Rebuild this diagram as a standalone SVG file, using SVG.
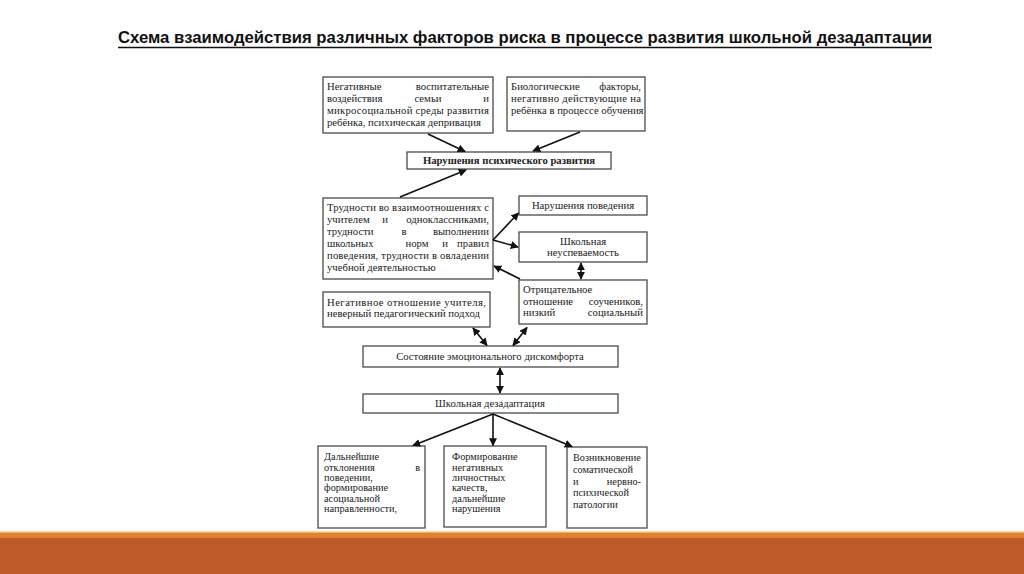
<svg xmlns="http://www.w3.org/2000/svg" width="1024" height="574" viewBox="0 0 1024 574">
<defs>
<style>
.box{fill:#fff;stroke:#4a4a4a;stroke-width:1.3}
.t{font-family:'Liberation Serif','Times New Roman',serif;font-size:10.7px;fill:#222}
.s{font-size:10.3px}
.c{text-anchor:middle}
.e{text-anchor:end}
.b{font-weight:bold}
.ln{stroke:#111;stroke-width:1.6;fill:none}
</style>
<marker id="ah" viewBox="0 0 10 10" refX="9" refY="5" markerWidth="5" markerHeight="5" orient="auto-start-reverse" markerUnits="strokeWidth">
<path d="M0,0 L10,5 L0,10 z" fill="#111"/>
</marker>
</defs>
<rect width="1024" height="574" fill="#fff"/>

<g id="title">
<text x="118" y="43" font-family="'Liberation Sans',Arial,sans-serif" font-weight="bold" font-size="16" fill="#111" textLength="814" lengthAdjust="spacingAndGlyphs">Схема взаимодействия различных факторов риска в процессе развития школьной дезадаптации</text>
<line x1="118" y1="47.5" x2="932" y2="47.5" stroke="#111" stroke-width="1.4"/>
</g>

<g id="n1" font-family="'Liberation Serif',serif">
<rect class="box" x="323" y="77" width="170" height="56"/>
<text class="t" x="327" y="90">Негативные</text>
<text class="t e" x="489" y="90">воспитательные</text>
<text class="t" x="327" y="102">воздействия</text>
<text class="t c" x="428" y="102">семьи</text>
<text class="t e" x="489" y="102">и</text>
<text class="t" x="327" y="114" textLength="162" lengthAdjust="spacing">микросоциальной среды развития</text>
<text class="t" x="327" y="126">ребёнка, психическая депривация</text>
</g>

<g id="n2" font-family="'Liberation Serif',serif">
<rect class="box" x="507" y="77" width="138" height="54"/>
<text class="t" x="511" y="90">Биологические</text>
<text class="t e" x="641" y="90">факторы,</text>
<text class="t" x="511" y="102" textLength="130" lengthAdjust="spacing">негативно действующие на</text>
<text class="t" x="511" y="114">ребёнка в процессе обучения</text>
</g>

<g id="n3" font-family="'Liberation Serif',serif">
<rect class="box" x="407" y="152" width="204" height="17"/>
<text class="t c b" x="509" y="164">Нарушения психического развития</text>
</g>

<g id="n4" font-family="'Liberation Serif',serif">
<rect class="box" x="323" y="198" width="170" height="81"/>
<text class="t" x="327" y="211" textLength="162" lengthAdjust="spacing">Трудности во взаимоотношениях с</text>
<text class="t" x="327" y="223">учителем</text>
<text class="t c" x="385" y="223">и</text>
<text class="t e" x="489" y="223">одноклассниками,</text>
<text class="t" x="327" y="235">трудности</text>
<text class="t c" x="404" y="235">в</text>
<text class="t e" x="489" y="235">выполнении</text>
<text class="t" x="327" y="247">школьных</text>
<text class="t c" x="417" y="247">норм</text>
<text class="t c" x="445" y="247">и</text>
<text class="t e" x="489" y="247">правил</text>
<text class="t" x="327" y="259" textLength="162" lengthAdjust="spacing">поведения, трудности в овладении</text>
<text class="t" x="327" y="271">учебной деятельностью</text>
</g>

<g id="n5" font-family="'Liberation Serif',serif">
<rect class="box" x="519" y="196" width="128" height="19"/>
<text class="t c" x="583" y="209">Нарушения поведения</text>
</g>

<g id="n6" font-family="'Liberation Serif',serif">
<rect class="box" x="519" y="232" width="128" height="30"/>
<text class="t c" x="583" y="245">Школьная</text>
<text class="t c" x="583" y="256">неуспеваемость</text>
</g>

<g id="n7" font-family="'Liberation Serif',serif">
<rect class="box" x="519" y="280" width="128" height="44"/>
<text class="t" x="523" y="293">Отрицательное</text>
<text class="t" x="523" y="305">отношение</text>
<text class="t e" x="643" y="305">соучеников,</text>
<text class="t" x="523" y="316">низкий</text>
<text class="t e" x="643" y="316">социальный</text>
</g>

<g id="n8" font-family="'Liberation Serif',serif">
<rect class="box" x="323" y="292" width="167" height="35"/>
<text class="t" x="327" y="305.5" textLength="159" lengthAdjust="spacing">Негативное отношение учителя,</text>
<text class="t" x="327" y="317">неверный педагогический подход</text>
</g>

<g id="n9" font-family="'Liberation Serif',serif">
<rect class="box" x="363" y="346" width="255" height="21"/>
<text class="t c" x="490" y="360">Состояние эмоционального дискомфорта</text>
</g>

<g id="n10" font-family="'Liberation Serif',serif">
<rect class="box" x="363" y="394" width="255" height="19"/>
<text class="t c" x="490" y="407">Школьная дезадаптация</text>
</g>

<g id="n11" font-family="'Liberation Serif',serif">
<rect class="box" x="318" y="446" width="107" height="82"/>
<text class="t s" x="324" y="460">Дальнейшие</text>
<text class="t s" x="324" y="470.5">отклонения</text>
<text class="t s e" x="420" y="470.5">в</text>
<text class="t s" x="324" y="481">поведении,</text>
<text class="t s" x="324" y="491">формирование</text>
<text class="t s" x="324" y="501.5">асоциальной</text>
<text class="t s" x="324" y="512">направленности,</text>
</g>

<g id="n12" font-family="'Liberation Serif',serif">
<rect class="box" x="444" y="446" width="102" height="81"/>
<text class="t s" x="452" y="460">Формирование</text>
<text class="t s" x="452" y="470.5">негативных</text>
<text class="t s" x="452" y="481">личностных</text>
<text class="t s" x="452" y="491">качеств,</text>
<text class="t s" x="452" y="501.5">дальнейшие</text>
<text class="t s" x="452" y="512">нарушения</text>
</g>

<g id="n13" font-family="'Liberation Serif',serif">
<rect class="box" x="567" y="447" width="80" height="81"/>
<text class="t s" x="573" y="461">Возникновение</text>
<text class="t s" x="573" y="473">соматической</text>
<text class="t s" x="573" y="484.5">и</text>
<text class="t s e" x="641" y="484.5">нервно-</text>
<text class="t s" x="573" y="496">психической</text>
<text class="t s" x="573" y="508">патологии</text>
</g>

<g id="connectors">
<line class="ln" x1="428" y1="134" x2="465" y2="151.5" marker-end="url(#ah)"/>
<line class="ln" x1="580" y1="132" x2="533" y2="151" marker-end="url(#ah)"/>
<line class="ln" x1="400" y1="197" x2="466" y2="170" marker-end="url(#ah)"/>
<line class="ln" x1="493" y1="240" x2="518.5" y2="213" marker-end="url(#ah)"/>
<line class="ln" x1="493" y1="240" x2="518" y2="247" marker-end="url(#ah)"/>
<line class="ln" x1="520" y1="279" x2="494" y2="266" marker-end="url(#ah)"/>
<line class="ln" x1="581" y1="263" x2="581" y2="279" marker-start="url(#ah)" marker-end="url(#ah)"/>
<line class="ln" x1="473" y1="328" x2="487" y2="345.5" marker-start="url(#ah)" marker-end="url(#ah)"/>
<line class="ln" x1="527" y1="327.5" x2="513" y2="345.5" marker-start="url(#ah)" marker-end="url(#ah)"/>
<line class="ln" x1="500" y1="368" x2="500" y2="393" marker-start="url(#ah)" marker-end="url(#ah)"/>
<line class="ln" x1="493" y1="414" x2="413" y2="445.5" marker-end="url(#ah)"/>
<line class="ln" x1="493" y1="414" x2="493" y2="445.5" marker-end="url(#ah)"/>
<line class="ln" x1="493" y1="414" x2="572" y2="446.5" marker-end="url(#ah)"/>
</g>

<g id="footer">
<rect x="0" y="531.5" width="1024" height="1.2" fill="#F2B66E"/>
<rect x="0" y="532.7" width="1024" height="4.6" fill="#E8821E"/>
<rect x="0" y="537.3" width="1024" height="36.7" fill="#BD5A2C"/>
</g>
</svg>
